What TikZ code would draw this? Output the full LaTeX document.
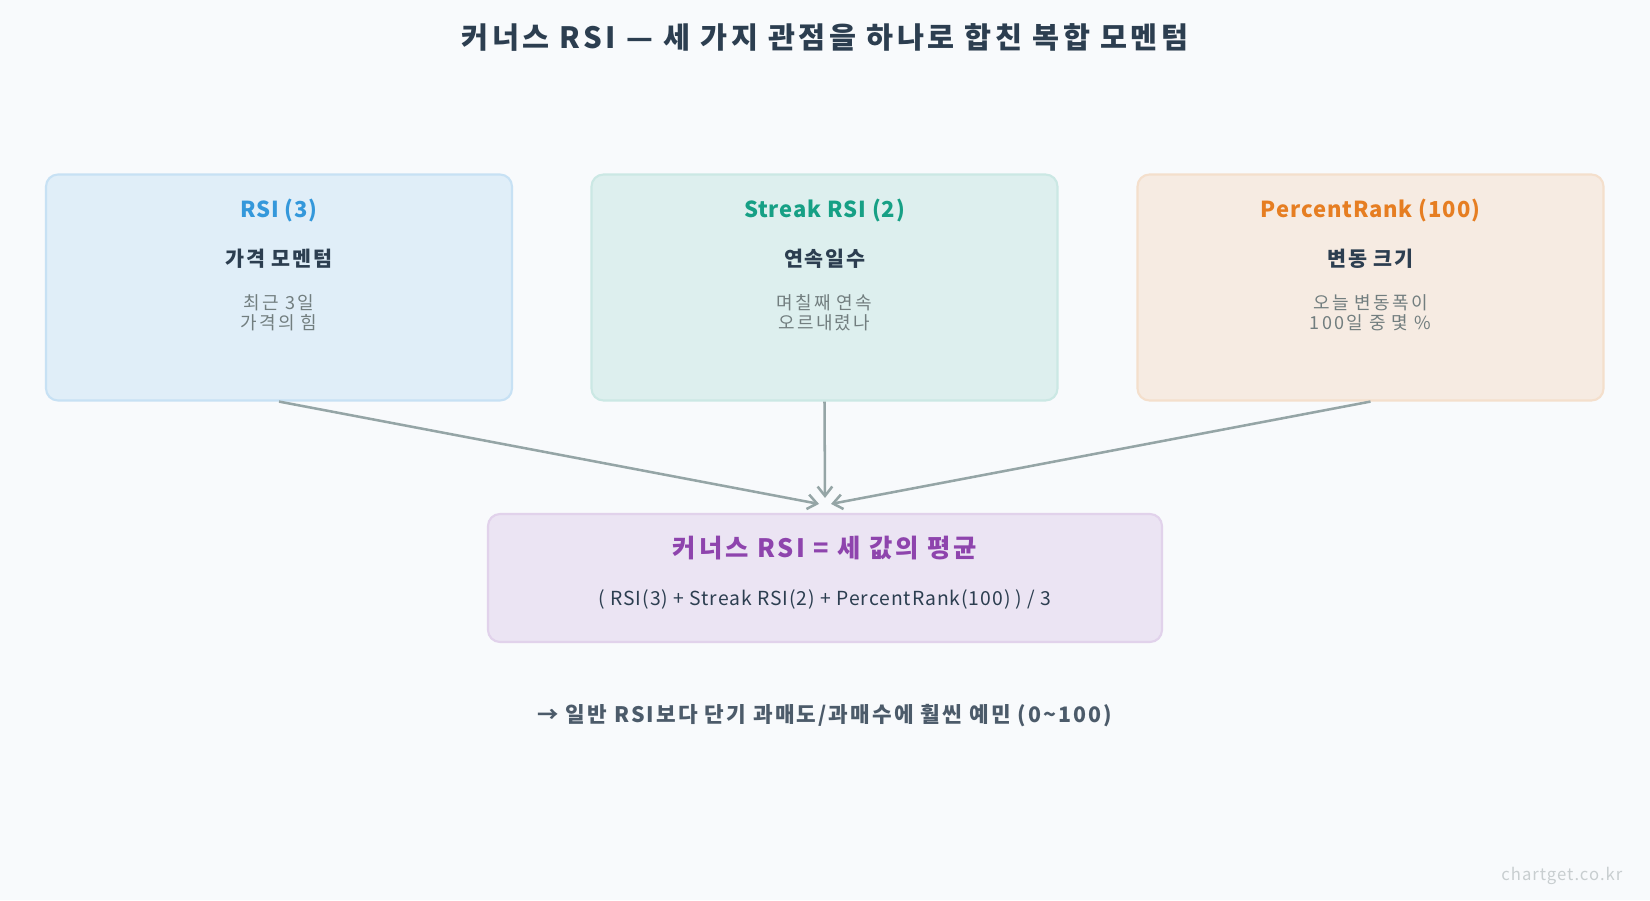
\documentclass[tikz,border=0pt]{standalone}
\usepackage{fontspec}
\setmainfont{Noto Sans CJK KR}
\usepackage{xcolor}
\usetikzlibrary{arrows.meta}

\definecolor{paper}{HTML}{F8FAFC}
\definecolor{ink}{HTML}{2C3E50}
\definecolor{mute}{HTML}{7F8C8D}
\definecolor{wire}{HTML}{95A5A6}
\definecolor{rsiblue}{HTML}{3498DB}
\definecolor{strkgreen}{HTML}{16A085}
\definecolor{rankorange}{HTML}{E67E22}
\definecolor{cnrpurple}{HTML}{8E44AD}

\newcommand{\spaced}[1]{\addfontfeature{LetterSpace=#1}}

\begin{document}
\begin{tikzpicture}[
        x=0.75pt, y=-0.75pt,
        card/.style={rectangle, rounded corners=9pt, line width=1.6pt,
                     minimum width=349.5pt, minimum height=169.5pt},
        head/.style={font=\fontsize{16.5}{20}\selectfont\bfseries\spaced{4}},
        sub/.style={font=\fontsize{15.5}{18}\selectfont\bfseries\spaced{8}, text=ink},
        desc/.style={font=\fontsize{13.5}{15}\selectfont\spaced{12}, text=mute!90!black, align=center},
        arr/.style={-{Straight Barb[length=7pt, width=11pt]}, line width=1.9pt, draw=wire},
    ]
        \fill[paper] (0,0) rectangle (1650,900);
        \useasboundingbox (0,0) rectangle (1650,900);

        \node[font=\fontsize{22}{26}\selectfont\bfseries\spaced{12}, text=ink] (title) at (825,37)
            {커너스 RSI — 세 가지 관점을 하나로 합친 복합 모멘텀};

        % three inputs
        \node[card, fill=rsiblue!12!paper, draw=rsiblue!25!paper]       (rsi)  at (279,287.5) {};
        \node[card, fill=strkgreen!12!paper, draw=strkgreen!20!paper]   (strk) at (824.5,287.5) {};
        \node[card, fill=rankorange!12!paper, draw=rankorange!22!paper] (rank) at (1370.5,287.5) {};

        \node[head, text=rsiblue]    (rsih)  at (279,210)    {RSI (3)};
        \node[head, text=strkgreen]  (strkh) at (824.5,210)  {Streak RSI (2)};
        \node[head, text=rankorange] (rankh) at (1370.5,210) {PercentRank (100)};

        \node[sub] (rsis)  at (279,259)    {가격 모멘텀};
        \node[sub] (strks) at (824.5,259)  {연속일수};
        \node[sub] (ranks) at (1370.5,259) {변동 크기};

        \node[desc] (rsid)  at (279,313)    {최근 3일\\가격의 힘};
        \node[desc] (strkd) at (824.5,313)  {며칠째 연속\\오르내렸나};
        \node[desc] (rankd) at (1370.5,313) {오늘 변동폭이\\100일 중 몇 \%};

        % result
        \node[card, minimum width=505.5pt, minimum height=96pt,
              fill=cnrpurple!12!paper, draw=cnrpurple!22!paper] (cnr) at (825,578) {};
        \node[font=\fontsize{19}{22}\selectfont\bfseries\spaced{11}, text=cnrpurple] (cnrh) at (825,548)
            {커너스 RSI = 세 값의 평균};
        \node[font=\fontsize{14.5}{17}\selectfont\spaced{5}, text=ink] (cnrf) at (825,599)
            {( RSI(3) + Streak RSI(2) + PercentRank(100) ) / 3};

        \draw[arr] (rsi.south)  -- ([shift={(-6,-9)}]cnr.north);
        \draw[arr] (strk.south) -- ([shift={(0,-15)}]cnr.north);
        \draw[arr] (rank.south) -- ([shift={(6,-9)}]cnr.north);

        \node[font=\fontsize{16}{19}\selectfont\bfseries\spaced{10}, text=ink!85] (note) at (825,716)
            {→ 일반 RSI보다 단기 과매도/과매수에 훨씬 예민 (0\textasciitilde100)};

        \node[font=\fontsize{12.5}{15}\selectfont\spaced{6}, text=mute!40!paper, anchor=east] (mark) at (1627,876)
            {chartget.co.kr};
    \end{tikzpicture}
\end{document}
